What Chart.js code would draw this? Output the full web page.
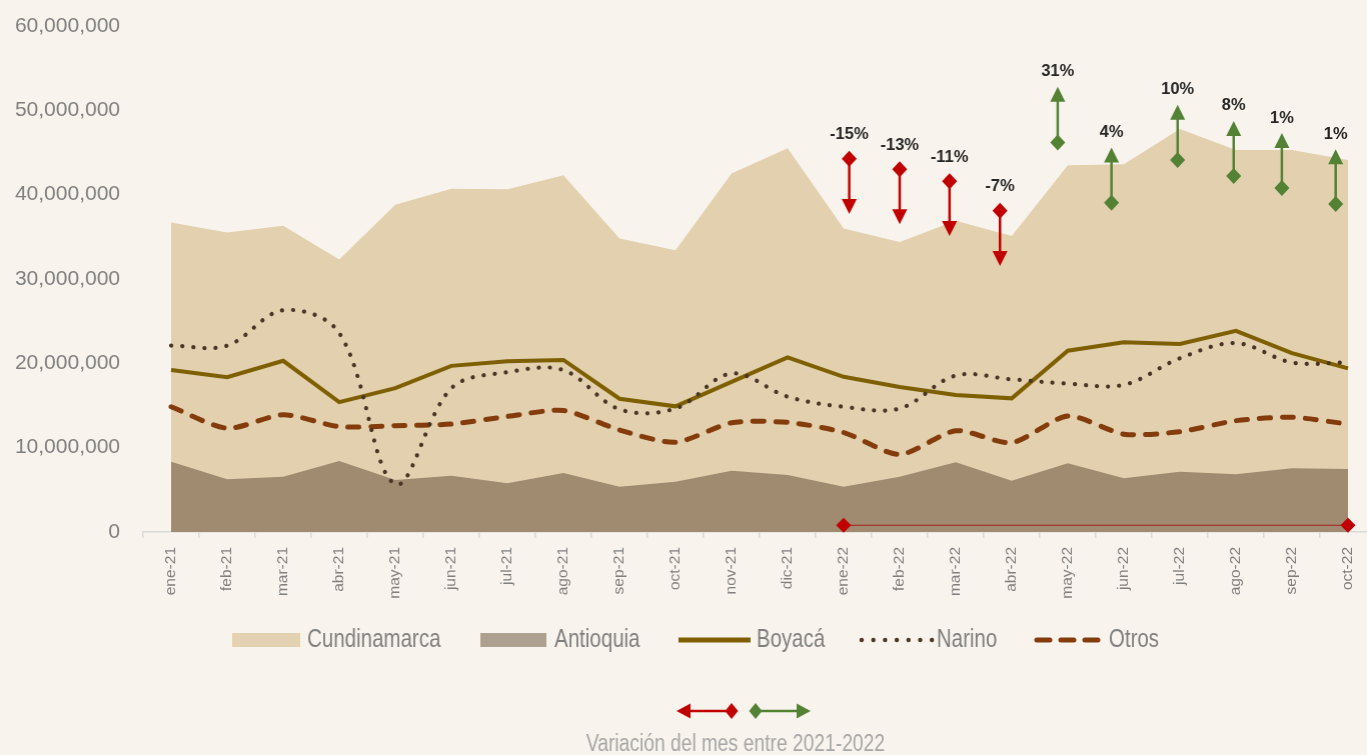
<!DOCTYPE html>
<html>
<head>
<meta charset="utf-8">
<script src="https://cdn.jsdelivr.net/npm/chart.js@4.4.0/dist/chart.umd.min.js"></script>
<style>
  html, body { margin: 0; padding: 0; background: #F8F4ED; overflow: hidden; width: 1367px; height: 755px; }
  #wrap { position: absolute; left: 0; top: 0; width: 1375px; height: 755px; }
</style>
</head>
<body>
<div id="wrap"><canvas id="chart"></canvas></div>
<script>
// Data
const months = ['ene-21', 'feb-21', 'mar-21', 'abr-21', 'may-21', 'jun-21', 'jul-21', 'ago-21', 'sep-21', 'oct-21', 'nov-21', 'dic-21',
  'ene-22', 'feb-22', 'mar-22', 'abr-22', 'may-22', 'jun-22', 'jul-22', 'ago-22', 'sep-22', 'oct-22'];

const cundinamarca = [36700000, 35500000, 36300000, 32300000, 38800000, 40700000, 40650000, 42300000, 34800000, 33400000, 42500000, 45500000,
  36000000, 34400000, 36900000, 35100000, 43500000, 43600000, 47800000, 45300000, 45300000, 44100000];
const antioquia = [8340000, 6250000, 6560000, 8420000, 6170000, 6680000, 5770000, 7000000, 5370000, 5970000, 7270000, 6760000,
  5370000, 6560000, 8270000, 6090000, 8150000, 6370000, 7150000, 6840000, 7550000, 7470000];
const boyaca = [19200000, 18350000, 20300000, 15400000, 17050000, 19700000, 20250000, 20400000, 15800000, 14900000, 17800000, 20700000,
  18400000, 17200000, 16250000, 15850000, 21500000, 22500000, 22300000, 23850000, 21200000, 19400000];
const narino = [22100000, 22100000, 26300000, 23600000, 5660000, 17050000, 18950000, 19200000, 14550000, 14650000, 18800000, 16050000,
  14850000, 14650000, 18550000, 18100000, 17600000, 17450000, 20600000, 22400000, 20100000, 20100000];
const otros = [14850000, 12300000, 13900000, 12500000, 12600000, 12800000, 13700000, 14400000, 12100000, 10650000, 12950000, 13000000,
  11800000, 9200000, 12000000, 10600000, 13750000, 11600000, 11900000, 13200000, 13600000, 12800000];
const baseLine = [null, null, null, null, null, null, null, null, null, null, null, null,
  800000, 800000, 800000, 800000, 800000, 800000, 800000, 800000, 800000, 800000];

// Variation arrows (x in category units, from diamond value to arrow tip value)
const varLabels = ['-15%', '-13%', '-11%', '-7%', '31%', '4%', '10%', '8%', '1%', '1%'];
const arrowPos = [12.1, 13.0, 13.89, 14.79, 15.82, 16.78, 17.96, 18.96, 19.82, 20.78];
const arrowFrom = [44250000, 43000000, 41600000, 38100000, 46200000, 39050000, 44100000, 42200000, 40800000, 38900000];
const arrowTo = [37700000, 36500000, 35100000, 31550000, 52800000, 45600000, 50650000, 48750000, 47300000, 45400000];

const legendNames = ['Cundinamarca', 'Antioquia', 'Boyacá', 'Narino', 'Otros'];
const caption = 'Variación del mes entre 2021-2022';

const RED = '#C00000';
const GREEN = '#548235';

// Narrow font helper (falls back to a squeezed Liberation Sans)
let narrowOK = null;
const hasNarrow = (ctx) => {
  if (narrowOK === null) {
    ctx.save();
    ctx.font = '40px "Liberation Sans Narrow", monospace';
    const a = ctx.measureText('Cundinamarca').width;
    ctx.font = '40px monospace';
    const b = ctx.measureText('Cundinamarca').width;
    narrowOK = Math.abs(a - b) > 1;
    ctx.restore();
  }
  return narrowOK;
};
const drawNarrow = (ctx, text, x, y, size, color, align) => {
  ctx.save();
  ctx.fillStyle = color;
  ctx.textBaseline = 'middle';
  ctx.textAlign = align || 'left';
  if (hasNarrow(ctx)) {
    ctx.font = size + 'px "Liberation Sans Narrow"';
    ctx.fillText(text, x, y);
  } else {
    ctx.font = size + 'px "Liberation Sans", Arial, sans-serif';
    ctx.translate(x, y);
    ctx.scale(0.82, 1);
    ctx.fillText(text, 0, 0);
  }
  ctx.restore();
};

const diamond = (ctx, x, y, hw, hh) => {
  ctx.beginPath();
  ctx.moveTo(x, y - hh);
  ctx.lineTo(x + hw, y);
  ctx.lineTo(x, y + hh);
  ctx.lineTo(x - hw, y);
  ctx.closePath();
  ctx.fill();
};

const arrowPlugin = {
  id: 'variationArrows',
  afterDatasetsDraw(chart) {
    const { ctx, scales: { x, y } } = chart;
    ctx.save();
    arrowPos.forEach((pos, i) => {
      const px = x.getPixelForValue(pos);
      const y0 = y.getPixelForValue(arrowFrom[i]);
      const y1 = y.getPixelForValue(arrowTo[i]);
      const up = y1 < y0;
      const dir = up ? 1 : -1;
      const color = up ? GREEN : RED;
      ctx.strokeStyle = color;
      ctx.fillStyle = color;
      ctx.lineWidth = 2.5;
      ctx.beginPath();
      ctx.moveTo(px, y0);
      ctx.lineTo(px, y1 + dir * 14);
      ctx.stroke();
      ctx.beginPath();
      ctx.moveTo(px, y1);
      ctx.lineTo(px - 7.5, y1 + dir * 15);
      ctx.lineTo(px + 7.5, y1 + dir * 15);
      ctx.closePath();
      ctx.fill();
      diamond(ctx, px, y0, 7.5, 8);

      const top = up ? y1 : y0;
      ctx.font = 'bold 16.5px "Liberation Sans", Arial, sans-serif';
      ctx.fillStyle = '#262626';
      ctx.textAlign = 'center';
      ctx.textBaseline = 'middle';
      ctx.fillText(varLabels[i], px, top - (up ? 15 : 24));
    });
    ctx.restore();
  }
};

const legendPlugin = {
  id: 'bottomLegend',
  afterDraw(chart) {
    const ctx = chart.ctx;
    const ly = 640;
    const swatchX = [232, 480, 678, 859, 1033];
    const textX = [307, 554, 756, 936, 1108];
    ctx.save();
    // Cundinamarca
    ctx.fillStyle = '#E3D1B2';
    ctx.fillRect(swatchX[0], ly - 7, 68, 14);
    // Antioquia
    ctx.fillStyle = '#ADA091';
    ctx.fillRect(swatchX[1], ly - 7, 66, 14);
    // Boyacá
    ctx.strokeStyle = '#7F6000';
    ctx.lineWidth = 5;
    ctx.beginPath();
    ctx.moveTo(swatchX[2], ly);
    ctx.lineTo(swatchX[2] + 72, ly);
    ctx.stroke();
    // Narino
    ctx.fillStyle = '#4A3525';
    for (let k = 0; k < 7; k++) {
      ctx.beginPath();
      ctx.arc(swatchX[3] + 2 + k * 11.7, ly, 2.2, 0, Math.PI * 2);
      ctx.fill();
    }
    // Otros
    ctx.strokeStyle = '#843C0C';
    ctx.lineWidth = 5;
    ctx.lineCap = 'round';
    for (let k = 0; k < 3; k++) {
      ctx.beginPath();
      ctx.moveTo(swatchX[4] + 3 + k * 24, ly);
      ctx.lineTo(swatchX[4] + 16 + k * 24, ly);
      ctx.stroke();
    }
    ctx.restore();
    legendNames.forEach((name, i) => drawNarrow(ctx, name, textX[i], ly, 25, '#7F7F7F'));

    // small variation key
    const ky = 711;
    ctx.save();
    ctx.lineWidth = 2.5;
    ctx.fillStyle = RED;
    ctx.strokeStyle = RED;
    ctx.beginPath();
    ctx.moveTo(676, ky);
    ctx.lineTo(690, ky - 7.5);
    ctx.lineTo(690, ky + 7.5);
    ctx.closePath();
    ctx.fill();
    ctx.beginPath();
    ctx.moveTo(689, ky);
    ctx.lineTo(726, ky);
    ctx.stroke();
    diamond(ctx, 731, ky, 6.5, 8);
    ctx.fillStyle = GREEN;
    ctx.strokeStyle = GREEN;
    diamond(ctx, 755, ky, 6.5, 8);
    ctx.beginPath();
    ctx.moveTo(760, ky);
    ctx.lineTo(797, ky);
    ctx.stroke();
    ctx.beginPath();
    ctx.moveTo(810, ky);
    ctx.lineTo(796, ky - 7.5);
    ctx.lineTo(796, ky + 7.5);
    ctx.closePath();
    ctx.fill();
    ctx.restore();

    drawNarrow(ctx, caption, 735, 745, 23.5, '#A6A6A6', 'center');
  }
};

const chart = new Chart(document.getElementById('chart'), {
  type: 'line',
  data: {
    labels: months,
    datasets: [
      { label: 'Cundinamarca', data: cundinamarca, fill: 'origin', backgroundColor: '#E2D0AF', borderWidth: 0, pointRadius: 0, order: 10 },
      { label: 'Antioquia', data: antioquia, fill: 'origin', backgroundColor: '#A08A70', borderWidth: 0, pointRadius: 0, order: 9 },
      { label: 'Otros', data: otros, fill: false, borderColor: '#843C0C', borderWidth: 5, borderDash: [11, 12],
        borderCapStyle: 'round', tension: 0.25, pointRadius: 0, order: 6 },
      { label: 'Boyacá', data: boyaca, fill: false, borderColor: '#7F6000', borderWidth: 4, pointRadius: 0, order: 5 },
      { label: 'Narino', data: narino, fill: false, borderColor: '#4A3525', borderWidth: 4.2, borderDash: [0.1, 11],
        borderCapStyle: 'round', tension: 0.35, pointRadius: 0, order: 4 },
      { label: 'base', data: baseLine, fill: false, borderColor: '#A52020', borderWidth: 1, clip: false,
        pointStyle: 'rectRot', pointBackgroundColor: RED, pointBorderWidth: 0,
        pointRadius: (c) => (c.dataIndex === 12 || c.dataIndex === 21) ? 7.5 : 0, order: 2 }
    ]
  },
  options: {
    responsive: true,
    maintainAspectRatio: false,
    animation: false,
    layout: { padding: { top: 26, bottom: 143, left: 0, right: 0 } },
    plugins: { legend: { display: false }, tooltip: { enabled: false } },
    scales: {
      x: {
        offset: true,
        grid: { display: true, drawOnChartArea: false, offset: true, tickLength: 6, color: '#D9D9D9', lineWidth: 1.5 },
        border: { color: '#D9D9D9', width: 1.5 },
        ticks: { autoSkip: false, minRotation: 90, maxRotation: 90, padding: 9, color: '#7F7F7F',
          font: { family: '"Liberation Sans", Arial, sans-serif', size: 15.5 } },
        afterFit: (s) => { s.height = 80; s.paddingLeft = 0; s.paddingRight = 0; }
      },
      y: {
        min: 0,
        max: 60000000,
        grid: { display: false, drawTicks: false },
        border: { display: false },
        ticks: { stepSize: 10000000, padding: 23, color: '#7F7F7F',
          font: { family: '"Liberation Sans", Arial, sans-serif', size: 21 },
          callback: (v) => v.toLocaleString('en-US') },
        afterFit: (s) => { s.width = 143; s.paddingTop = 0; s.paddingBottom = 0; }
      }
    }
  },
  plugins: [arrowPlugin, legendPlugin]
});

// The plot runs past the right edge of the window in the original: widen the canvas
// until the last category slot ends at x = 1375
const wrap = document.getElementById('wrap');
for (let k = 0; k < 3; k++) {
  const extra = 1375 - chart.chartArea.right;
  if (Math.abs(extra) < 0.4) break;
  const w = chart.width + extra;
  wrap.style.width = w + 'px';
  chart.resize(w, 755);
}
</script>
</body>
</html>
